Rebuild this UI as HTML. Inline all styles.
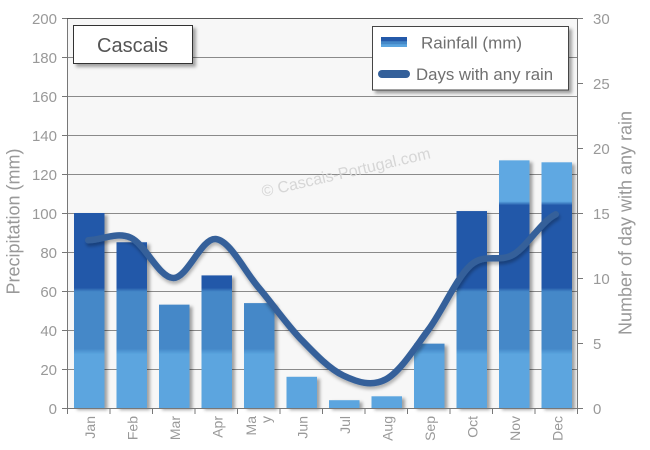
<!DOCTYPE html>
<html><head><meta charset="utf-8"><style>
html,body{margin:0;padding:0;background:#fff;}
svg{display:block;font-family:"Liberation Sans",Arial,sans-serif;}
</style></head><body>
<svg width="650" height="450" viewBox="0 0 650 450" xmlns="http://www.w3.org/2000/svg">
<defs>
<linearGradient id="bg" gradientUnits="userSpaceOnUse" x1="0" y1="408" x2="0" y2="18">
<stop offset="0" stop-color="#5ba5df"/>
<stop offset="0.138" stop-color="#5ba5df"/>
<stop offset="0.152" stop-color="#4488c8"/>
<stop offset="0.298" stop-color="#4488c8"/>
<stop offset="0.308" stop-color="#2459a9"/>
<stop offset="0.52" stop-color="#2459a9"/>
<stop offset="0.53" stop-color="#5ea8e2"/>
<stop offset="1" stop-color="#5ea8e2"/>
</linearGradient>
<linearGradient id="lg" x1="0" y1="0" x2="0" y2="1">
<stop offset="0" stop-color="#2459a9"/>
<stop offset="0.4" stop-color="#2459a9"/>
<stop offset="0.45" stop-color="#4488c8"/>
<stop offset="0.7" stop-color="#4488c8"/>
<stop offset="0.75" stop-color="#5ba5df"/>
<stop offset="1" stop-color="#5ba5df"/>
</linearGradient>
<filter id="sh" x="-20%" y="-20%" width="150%" height="150%">
<feDropShadow dx="3" dy="2" stdDeviation="1.6" flood-color="#000" flood-opacity="0.35"/>
</filter>
<filter id="lsh" x="-10%" y="-10%" width="120%" height="130%">
<feDropShadow dx="1" dy="3" stdDeviation="1.5" flood-color="#000" flood-opacity="0.28"/>
</filter>
<filter id="bsh" x="-10%" y="-10%" width="130%" height="140%">
<feDropShadow dx="3" dy="3" stdDeviation="1.5" flood-color="#000" flood-opacity="0.35"/>
</filter>
</defs>

<rect x="67" y="18" width="510" height="390" fill="#f7f7f7"/>

<g stroke="#8a8a8a" stroke-width="1">
<line x1="67" y1="57.5" x2="577" y2="57.5"/>
<line x1="67" y1="96.5" x2="577" y2="96.5"/>
<line x1="67" y1="135.5" x2="577" y2="135.5"/>
<line x1="67" y1="174.5" x2="577" y2="174.5"/>
<line x1="67" y1="213.5" x2="577" y2="213.5"/>
<line x1="67" y1="252.5" x2="577" y2="252.5"/>
<line x1="67" y1="291.5" x2="577" y2="291.5"/>
<line x1="67" y1="330.5" x2="577" y2="330.5"/>
<line x1="67" y1="369.5" x2="577" y2="369.5"/>
</g>

<text x="263" y="197" font-size="16" fill="#d6d6d6" transform="rotate(-13 263 197)">© Cascais-Portugal.com</text>

<g fill="url(#bg)" filter="url(#sh)">
<rect x="74" y="213" width="30.5" height="195"/>
<rect x="116.5" y="242.25" width="30.5" height="165.75"/>
<rect x="159" y="304.65" width="30.5" height="103.35"/>
<rect x="201.5" y="275.4" width="30.5" height="132.6"/>
<rect x="244" y="303.1" width="30.5" height="104.9"/>
<rect x="286.5" y="376.8" width="30.5" height="31.2"/>
<rect x="329" y="400.2" width="30.5" height="7.8"/>
<rect x="371.5" y="396.3" width="30.5" height="11.7"/>
<rect x="414" y="343.65" width="30.5" height="64.35"/>
<rect x="456.5" y="211.05" width="30.5" height="196.95"/>
<rect x="499" y="160.35" width="30.5" height="247.65"/>
<rect x="541.5" y="162.3" width="30.5" height="245.7"/>
</g>

<g stroke="#777" stroke-width="1" fill="none">
<line x1="67.5" y1="18" x2="67.5" y2="408"/>
<line x1="577.5" y1="18" x2="577.5" y2="414"/>
<line x1="62" y1="408.5" x2="577" y2="408.5"/>
</g>
<line x1="67" y1="18.5" x2="577" y2="18.5" stroke="#555" stroke-width="1"/>
<g stroke="#777" stroke-width="1">
<line x1="62" y1="18.5" x2="67" y2="18.5"/>
<line x1="62" y1="57.5" x2="67" y2="57.5"/>
<line x1="62" y1="96.5" x2="67" y2="96.5"/>
<line x1="62" y1="135.5" x2="67" y2="135.5"/>
<line x1="62" y1="174.5" x2="67" y2="174.5"/>
<line x1="62" y1="213.5" x2="67" y2="213.5"/>
<line x1="62" y1="252.5" x2="67" y2="252.5"/>
<line x1="62" y1="291.5" x2="67" y2="291.5"/>
<line x1="62" y1="330.5" x2="67" y2="330.5"/>
<line x1="62" y1="369.5" x2="67" y2="369.5"/>
<line x1="577" y1="18.5" x2="583" y2="18.5"/>
<line x1="577" y1="83.5" x2="583" y2="83.5"/>
<line x1="577" y1="148.5" x2="583" y2="148.5"/>
<line x1="577" y1="213.5" x2="583" y2="213.5"/>
<line x1="577" y1="278.5" x2="583" y2="278.5"/>
<line x1="577" y1="343.5" x2="583" y2="343.5"/>
<line x1="577" y1="408.5" x2="583" y2="408.5"/>
<line x1="67.5" y1="408" x2="67.5" y2="414"/>
<line x1="110" y1="408" x2="110" y2="414"/>
<line x1="152.5" y1="408" x2="152.5" y2="414"/>
<line x1="195" y1="408" x2="195" y2="414"/>
<line x1="237.5" y1="408" x2="237.5" y2="414"/>
<line x1="280" y1="408" x2="280" y2="414"/>
<line x1="322.5" y1="408" x2="322.5" y2="414"/>
<line x1="365" y1="408" x2="365" y2="414"/>
<line x1="407.5" y1="408" x2="407.5" y2="414"/>
<line x1="450" y1="408" x2="450" y2="414"/>
<line x1="492.5" y1="408" x2="492.5" y2="414"/>
<line x1="535" y1="408" x2="535" y2="414"/>
<line x1="577.5" y1="408" x2="577.5" y2="414"/>
</g>

<path filter="url(#lsh)" fill="none" stroke="#34609a" stroke-width="6.5" stroke-linecap="round" stroke-linejoin="round"
d="M88.25,240.3 C102.42,239.87 116.58,231.42 130.75,237.7 C144.92,243.98 159.08,277.78 173.25,278 C187.42,278.22 201.58,237.48 215.75,239 C229.92,240.52 244.08,270.42 258.25,287.1 C272.42,303.78 286.58,324.37 300.75,339.1 C314.92,353.83 329.08,368.78 343.25,375.5 C357.42,382.22 371.58,386.98 385.75,379.4 C399.92,371.82 414.08,349.07 428.25,330 C442.42,310.93 456.58,277.57 470.75,265 C484.92,252.43 499.08,263.05 513.25,254.6 C527.42,246.15 541.58,221.02 555.75,214.3"/>

<g font-size="15" fill="#999" text-anchor="end">
<text x="57" y="24">200</text>
<text x="57" y="63">180</text>
<text x="57" y="102">160</text>
<text x="57" y="141">140</text>
<text x="57" y="180">120</text>
<text x="57" y="219">100</text>
<text x="57" y="258">80</text>
<text x="57" y="297">60</text>
<text x="57" y="336">40</text>
<text x="57" y="375">20</text>
<text x="57" y="414">0</text>
</g>
<g font-size="15" fill="#999">
<text x="593" y="24">30</text>
<text x="593" y="89">25</text>
<text x="593" y="154">20</text>
<text x="593" y="219">15</text>
<text x="593" y="284">10</text>
<text x="593" y="349">5</text>
<text x="593" y="414">0</text>
</g>

<text font-size="18" fill="#999" text-anchor="middle" transform="translate(19.5,221.5) rotate(-90)">Precipitation (mm)</text>
<text font-size="18" fill="#999" text-anchor="middle" transform="translate(631.5,223) rotate(-90)">Number of day with any rain</text>

<g font-size="14" fill="#999" text-anchor="end">
<text transform="translate(95,416) rotate(-90)">Jan</text>
<text transform="translate(137.5,416) rotate(-90)">Feb</text>
<text transform="translate(180,416) rotate(-90)">Mar</text>
<text transform="translate(222.5,416) rotate(-90)">Apr</text>
<text transform="translate(256,416) rotate(-90)">Ma</text>
<text transform="translate(271,416) rotate(-90)">y</text>
<text transform="translate(307.5,416) rotate(-90)">Jun</text>
<text transform="translate(350,416) rotate(-90)">Jul</text>
<text transform="translate(392.5,416) rotate(-90)">Aug</text>
<text transform="translate(435,416) rotate(-90)">Sep</text>
<text transform="translate(477.5,416) rotate(-90)">Oct</text>
<text transform="translate(520,416) rotate(-90)">Nov</text>
<text transform="translate(562.5,416) rotate(-90)">Dec</text>
</g>

<rect x="73.5" y="25.5" width="119" height="38" fill="#fff" stroke="#333" stroke-width="1" filter="url(#bsh)"/>
<text x="97" y="52" font-size="20" fill="#555">Cascais</text>

<rect x="372.5" y="26.5" width="196" height="63.5" fill="#fff" stroke="#444" stroke-width="1" filter="url(#bsh)"/>
<rect x="381" y="37" width="26" height="10" fill="url(#lg)"/>
<text x="421" y="48.5" font-size="17" fill="#707070">Rainfall (mm)</text>
<line x1="382" y1="74" x2="406" y2="74" stroke="#34609a" stroke-width="8" stroke-linecap="round"/>
<text x="416" y="80" font-size="16.8" fill="#707070">Days with any rain</text>
</svg>
</body></html>
